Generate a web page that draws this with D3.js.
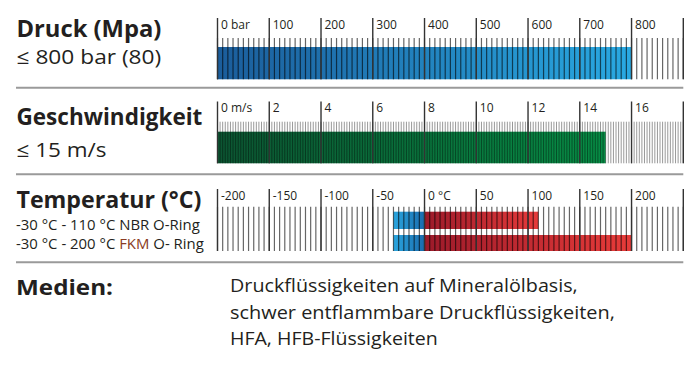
<!DOCTYPE html>
<html><head><meta charset="utf-8">
<script src="https://cdn.jsdelivr.net/npm/d3@7"></script>
<style>html,body{margin:0;padding:0;background:#fff}svg{display:block}</style>
</head><body>
<script>
// ---- data ----
const pressureTicks = [0,100,200,300,400,500,600,700,800];
const pressureLabels = ["0 bar","100","200","300","400","500","600","700","800"];
const pressureDomain = [0,900];
const pressureMinorStep = 10;
const pressureValue = 800;

const speedTicks = [0,2,4,6,8,10,12,14,16];
const speedLabels = ["0 m/s","2","4","6","8","10","12","14","16"];
const speedDomain = [0,18];
const speedMinorStep = 0.1;
const speedValue = 15;

const tempTicks = [-200,-150,-100,-50,0,50,100,150,200];
const tempLabels = ["-200","-150","-100","-50","0 °C","50","100","150","200"];
const tempDomain = [-200,250];
const tempMinorStep = 5;
const tempRanges = [[-30,110],[-30,200]]; // NBR, FKM

const W=700,H=367;
const svg=d3.select("body").append("svg").attr("width",W).attr("height",H);
const defs=svg.append("defs");
function grad(id,c1,c2){
  const g=defs.append("linearGradient").attr("id",id).attr("x1","0").attr("x2","1").attr("y1","0").attr("y2","0");
  g.append("stop").attr("offset","0").attr("stop-color",c1);
  g.append("stop").attr("offset","1").attr("stop-color",c2);
}
grad("gBlue","#1b5d9b","#29a9e2");
grad("gGreen","#0c5532","#078c45");
grad("gTBlue","#2aa5de","#1a6cae");
grad("gRed1","#9c1a2a","#e53a3a");
grad("gRed2","#9c1a2a","#e83b39");

const x0=217.5,x1=683.3;
const FONT="'Open Sans', 'Noto Sans', sans-serif";
const TXT="#231f20";

function scaleBlock(cfg){
  const x=d3.scaleLinear().domain(cfg.domain).range([x0,x1]);
  const g=svg.append("g");
  cfg.bars.forEach(b=>{
    g.append("rect").attr("x",x(b.from)).attr("width",x(b.to)-x(b.from))
      .attr("y",b.y0).attr("height",b.y1-b.y0).attr("fill",b.fill);
  });
  const n=Math.round((cfg.domain[1]-cfg.domain[0])/cfg.minor);
  const minors=d3.range(0,n+1).map(i=>cfg.domain[0]+i*cfg.minor);
  g.selectAll(null).data(minors).enter().append("line")
    .attr("x1",d=>x(d)).attr("x2",d=>x(d))
    .attr("y1",cfg.minorTop).attr("y2",cfg.bottom)
    .attr("stroke","#000").attr("stroke-opacity",cfg.minorOpacity)
    .attr("stroke-width",cfg.minorWidth);
  const majors=cfg.ticks.concat([cfg.domain[1]]);
  g.selectAll(null).data(majors).enter().append("line")
    .attr("x1",d=>x(d)).attr("x2",d=>x(d))
    .attr("y1",cfg.majorTop).attr("y2",cfg.bottom)
    .attr("stroke","#333").attr("stroke-width",1.4);
  g.selectAll(null).data(cfg.ticks).enter().append("text")
    .attr("x",d=>x(d)+3.5).attr("y",cfg.labelY)
    .attr("font-family",FONT).attr("font-size",12).attr("fill",TXT)
    .text((d,i)=>cfg.labels[i]);
}

scaleBlock({domain:pressureDomain,ticks:pressureTicks,labels:pressureLabels,minor:pressureMinorStep,
  majorTop:18,minorTop:38,bottom:79.3,labelY:28.5,minorOpacity:0.6,minorWidth:1.2,
  bars:[{from:0,to:pressureValue,y0:47,y1:79.3,fill:"url(#gBlue)"}]});
scaleBlock({domain:speedDomain,ticks:speedTicks,labels:speedLabels,minor:speedMinorStep,
  majorTop:101.5,minorTop:121.7,bottom:163.3,labelY:112,minorOpacity:0.45,minorWidth:0.9,
  bars:[{from:0,to:speedValue,y0:131.7,y1:163.3,fill:"url(#gGreen)"}]});
scaleBlock({domain:tempDomain,ticks:tempTicks,labels:tempLabels,minor:tempMinorStep,
  majorTop:189,minorTop:206.7,bottom:251,labelY:199.5,minorOpacity:0.6,minorWidth:1.2,
  bars:[
    {from:tempRanges[0][0],to:0,y0:211.7,y1:229,fill:"url(#gTBlue)"},
    {from:0,to:tempRanges[0][1],y0:211.7,y1:229,fill:"url(#gRed1)"},
    {from:tempRanges[1][0],to:0,y0:235,y1:251,fill:"url(#gTBlue)"},
    {from:0,to:tempRanges[1][1],y0:235,y1:251,fill:"url(#gRed2)"}
  ]});

[87.8,174.3,262.3].forEach(y=>{
  svg.append("line").attr("x1",16).attr("x2",683.3).attr("y1",y).attr("y2",y)
    .attr("stroke","#9a9a9a").attr("stroke-width",2);
});

function fitText(parts,x,y,size,weight,targetW){
  const t=svg.append("text").attr("font-family",FONT).attr("font-size",size)
    .attr("font-weight",weight).attr("fill",TXT);
  parts.forEach(p=>{
    const s=t.append("tspan").text(p.t);
    if(p.c) s.attr("fill",p.c);
  });
  const w=t.node().getBBox().width;
  const sx=targetW/w;
  t.attr("transform",`translate(${x},${y}) scale(${sx},1)`);
}
fitText([{t:"Druck (Mpa)"}],16.5,36.5,24,700,145);
fitText([{t:"≤ 800 bar (80)"}],16.5,64,20,400,145);
fitText([{t:"Geschwindigkeit"}],16.5,124.5,24,700,186);
fitText([{t:"≤ 15 m/s"}],16.5,156.5,20,400,90);
fitText([{t:"Temperatur (°C)"}],16.5,208,24,700,185);
fitText([{t:"-30 °C - 110 °C NBR O-Ring"}],16,230,14.5,400,184);
fitText([{t:"-30 °C - 200 °C "},{t:"FKM",c:"#8a3b22"},{t:" O- Ring"}],16,249,14.5,400,188);
fitText([{t:"Medien:"}],16,294.5,22,700,97);
fitText([{t:"Druckflüssigkeiten auf Mineralölbasis,"}],230,292,19,400,348);
fitText([{t:"schwer entflammbare Druckflüssigkeiten,"}],230,318.5,19,400,385);
fitText([{t:"HFA, HFB-Flüssigkeiten"}],230,345,19,400,208);
</script>
</body></html>
